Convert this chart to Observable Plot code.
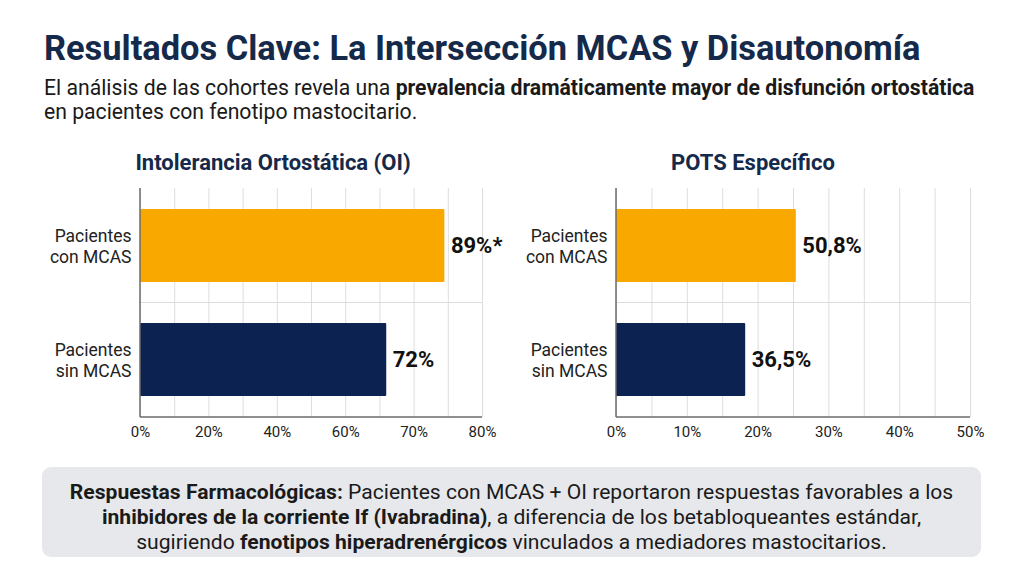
<!DOCTYPE html>
<html>
<head>
<meta charset="utf-8">
<script src="https://cdn.jsdelivr.net/npm/d3@7"></script>
<script src="https://cdn.jsdelivr.net/npm/@observablehq/plot@0.6"></script>
<style>
  html, body { margin: 0; padding: 0; background: #ffffff; }
  body { width: 1024px; height: 572px; position: relative; overflow: hidden; font-family: Roboto, "Noto Sans", sans-serif; }
  .title { position: absolute; left: 44px; top: 31px; font-size: 34.4px; font-weight: 700; color: #15294a; white-space: nowrap; line-height: 1; }
  .subtitle { position: absolute; left: 44px; top: 76px; font-size: 21.2px; color: #1a1a1a; line-height: 24px; white-space: nowrap; }
  .subtitle b { font-weight: 700; }
  .ctitle { position: absolute; font-size: 22px; font-weight: 700; color: #15294a; text-align: center; line-height: 1; }
  .chart { position: absolute; }
  .note { position: absolute; left: 42px; top: 467px; width: 939px; height: 90px; background: #e7e8eb; border-radius: 9px; box-sizing: border-box; padding-top: 12px; font-size: 21.1px; line-height: 25px; color: #1a1a1a; text-align: center; white-space: nowrap; }
  .note b { font-weight: 700; }
</style>
</head>
<body>
<div class="title">Resultados Clave: La Intersección MCAS y Disautonomía</div>
<div class="subtitle">El análisis de las cohortes revela una <b>prevalencia dramáticamente mayor de disfunción ortostática</b><br>en pacientes con fenotipo mastocitario.</div>

<div class="ctitle" style="left:40px; width:466px; top:152px;">Intolerancia Ortostática (OI)</div>
<div class="ctitle" style="left:510px; width:486px; top:152px;">POTS Específico</div>
<div id="left" class="chart" style="left:40px; top:180px;"></div>
<div id="right" class="chart" style="left:510px; top:180px;"></div>

<div class="note"><b>Respuestas Farmacológicas:</b> Pacientes con MCAS + OI reportaron respuestas favorables a los<br><b>inhibidores de la corriente If (Ivabradina)</b>, a diferencia de los betabloqueantes estándar,<br>sugiriendo <b>fenotipos hiperadrenérgicos</b> vinculados a mediadores mastocitarios.</div>

<script>
// ---- data ----
const groups = ["Pacientes\ncon MCAS", "Pacientes\nsin MCAS"];
const groupColors = ["#f9a800", "#0c2352"];

const oiValues = [89, 72];
const oiLabels = ["89%*", "72%"];
const oiTickValues = [0, 20, 40, 60, 80, 100];
const oiTickLabels = ["0%", "20%", "40%", "60%", "70%", "80%"];

const potsValues = [50.8, 36.5];
const potsLabels = ["50,8%", "36,5%"];
const potsTickValues = [0, 20, 40, 60, 80, 100];
const potsTickLabels = ["0%", "10%", "20%", "30%", "40%", "50%"];

const gridValues = [0, 10, 20, 30, 40, 50, 60, 70, 80, 90, 100];

function frameLines(index, scales, values, dims) {
  const x = scales.x, y = scales.y;
  const x0 = x(0), x1 = x(100);
  const top = dims.marginTop, bottom = dims.height - dims.marginBottom;
  let mid;
  if (typeof y.bandwidth === "function") {
    mid = (y(groups[0]) + y.bandwidth() + y(groups[1])) / 2;
  } else {
    mid = (top + bottom) / 2;
  }
  const g = d3.create("svg:g");
  g.append("line").attr("x1", x0).attr("x2", x1).attr("y1", mid).attr("y2", mid)
    .attr("stroke", "#dcdcdc").attr("stroke-width", 1);
  g.append("line").attr("x1", x0).attr("x2", x1).attr("y1", bottom).attr("y2", bottom)
    .attr("stroke", "#6b6b6b").attr("stroke-width", 1.5);
  g.append("line").attr("x1", x0).attr("x2", x0).attr("y1", top).attr("y2", bottom)
    .attr("stroke", "#6b6b6b").attr("stroke-width", 1.5);
  return g.node();
}

function makeChart(values, labels, tickValues, tickLabels, width, marginLeft, marginRight) {
  const data = groups.map((g, i) => ({group: g, value: values[i], label: labels[i], color: groupColors[i]}));
  return Plot.plot({
    width,
    height: 268,
    marginLeft,
    marginRight,
    marginTop: 8,
    marginBottom: 31,
    style: {fontFamily: "Roboto, 'Noto Sans', sans-serif", background: "transparent", overflow: "visible"},
    x: {domain: [0, 100]},
    y: {domain: groups, paddingInner: 0.36, paddingOuter: 0.18},
    marks: [
      Plot.gridX(gridValues, {stroke: "#dedede", strokeOpacity: 1, strokeWidth: 1}),
      Plot.barX(data, {x: "value", y: "group", fill: "color", rx: 1}),
      frameLines,
      Plot.text(data, {x: "value", y: "group", text: "label", textAnchor: "start", dx: 6,
        fontSize: 22, fontWeight: 700, fill: "#111"}),
      Plot.axisX({ticks: tickValues, tickFormat: (d, i) => tickLabels[i], tickSize: 0, tickPadding: 9,
        fontSize: 15, color: "#222", label: null}),
      Plot.axisY({tickSize: 0, tickPadding: 9, fontSize: 17.5, color: "#222", label: null, lineHeight: 1.15})
    ]
  });
}

document.getElementById("left").append(
  makeChart(oiValues, oiLabels, oiTickValues, oiTickLabels, 470, 100, 28));
document.getElementById("right").append(
  makeChart(potsValues, potsLabels, potsTickValues, potsTickLabels, 490, 106, 30));
</script>
</body>
</html>
